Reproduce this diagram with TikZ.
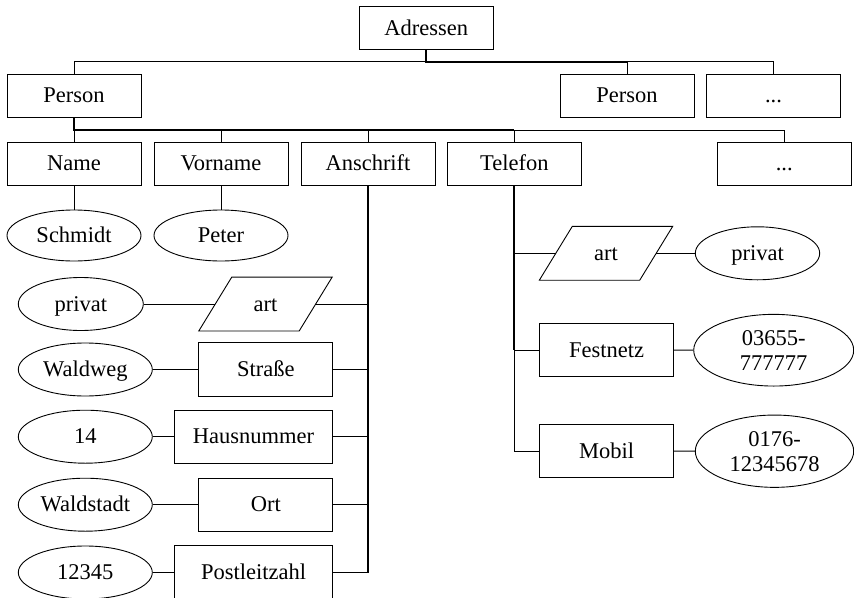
\documentclass[tikz,border=0pt]{standalone}
\usepackage{fontspec}
\setmainfont{Liberation Serif}
\usetikzlibrary{shapes.geometric}

\begin{document}
\begin{tikzpicture}[x=1pt,y=-1pt,
  font=\fontsize{22.5}{25}\selectfont,
  lnthin/.style={line width=0.9pt},
  lnthick/.style={line width=1.9pt},
  box/.style={draw, line width=0.9pt, rectangle, inner sep=0pt,
    text height=16pt, text depth=2pt,
    minimum width=134pt, minimum height=43pt},
  tallbox/.style={box, minimum height=53.4pt},
  widebox/.style={tallbox, minimum width=158.4pt},
  val/.style={draw, line width=0.9pt, ellipse, inner sep=0pt, align=center,
    text height=16pt, text depth=2pt,
    minimum width=134pt, minimum height=53pt},
  twoline/.style={text height={}, text depth={}},
  para/.style={rectangle, inner sep=0pt, text height=16pt, text depth=2pt,
    minimum width=133pt, minimum height=53.5pt}
]
\useasboundingbox (0,0) rectangle (854,597);
\fill[white] (0,0) rectangle (854,597);

% level 1 and 2
\node[box] (adr) at (426.2,28) {Adressen};
\node[box] (p1) at (74,95.7) {Person};
\node[box] (p2) at (627,95.7) {Person};
\node[box] (d1) at (773.5,95.7) {...};

% level 3
\node[box] (name)      at (74,163.8)    {Name};
\node[box] (vorname)   at (221,163.8)   {Vorname};
\node[box] (anschrift) at (368,163.8)   {Anschrift};
\node[box] (telefon)   at (514.3,163.8) {Telefon};
\node[box] (d2)        at (784.3,163.8) {...};

% name values
\node[val, minimum height=51pt] (schmidt) at (74,235.5) {Schmidt};
\node[val, minimum height=51pt] (peter)   at (221,235.5) {Peter};

% address attributes
\node[val, minimum width=125pt] (privat1) at (80.8,304) {privat};
\node[para] (art1) at (265.5,304) {art};
\draw[lnthin] (art1.south west) -- ([xshift=33pt]art1.north west)
  -- (art1.north east) -- ([xshift=-33pt]art1.south east) -- cycle;

\node[val] (waldweg)   at (85.3,369.5) {Waldweg};
\node[tallbox] (strasse) at (265.8,369.5) {Straße};
\node[val] (n14)       at (85.3,436.7) {14};
\node[widebox] (hausnr) at (253.5,436.7) {Hausnummer};
\node[val] (waldstadt) at (85.3,504.7) {Waldstadt};
\node[tallbox] (ort)   at (265.8,504.7) {Ort};
\node[val] (n12345)    at (85.3,572.5) {12345};
\node[widebox] (plz)   at (253.5,572.5) {Postleitzahl};

% phone attributes
\node[para] (art2) at (606,253.3) {art};
\draw[lnthin] (art2.south west) -- ([xshift=33pt]art2.north west)
  -- (art2.north east) -- ([xshift=-33pt]art2.south east) -- cycle;
\node[val, minimum width=124.4pt] (privat2) at (757.5,253.3) {privat};
\node[tallbox] (festnetz) at (606.5,350) {Festnetz};
\node[val, twoline, minimum width=160pt, minimum height=71.7pt] (tel1) at (773.7,350.2) {03655-\\777777};
\node[tallbox] (mobil) at (606.5,451) {Mobil};
\node[val, twoline, minimum width=158.4pt, minimum height=72.3pt] (tel2) at (774.5,451.2) {0176-\\12345678};

% bus from Adressen to the persons
\coordinate (b1) at (426.2,61.7);
\draw[lnthin] (p1.north) -- (p1.north |- b1) -- (d1.north |- b1) -- (d1.north);
\draw[lnthin] (p2.north) -- (p2.north |- b1);
\draw[lnthick] (adr.south) -- (b1) -- (p2.north |- b1);

% bus from Person to its fields
\coordinate (b2) at (74,130);
\draw[lnthin] (name.north) -- (name.north |- b2) -- (d2.north |- b2) -- (d2.north);
\draw[lnthin] (vorname.north) -- (vorname.north |- b2);
\draw[lnthin] (anschrift.north) -- (anschrift.north |- b2);
\draw[lnthin] (telefon.north) -- (telefon.north |- b2);
\draw[lnthick] (p1.south) -- (b2) -- (telefon.north |- b2);

% name and first name values
\draw[lnthin] (name) -- (schmidt);
\draw[lnthin] (vorname) -- (peter);

% address trunk
\draw[lnthick] (anschrift.south) -- (anschrift.south |- plz.east);
\draw[lnthin] ([xshift=-16.5pt]art1.east) -- (art1.east -| anschrift.south);
\draw[lnthin] (strasse.east) -- (strasse.east -| anschrift.south);
\draw[lnthin] (hausnr.east) -- (hausnr.east -| anschrift.south);
\draw[lnthin] (ort.east) -- (ort.east -| anschrift.south);
\draw[lnthin] (plz.east) -- (plz.east -| anschrift.south);

\draw[lnthin] (privat1) -- ([xshift=16.5pt]art1.west);
\draw[lnthin] (waldweg) -- (strasse);
\draw[lnthin] (n14) -- (hausnr);
\draw[lnthin] (waldstadt) -- (ort);
\draw[lnthin] (n12345) -- (plz);

% phone trunk
\draw[lnthick] (telefon.south) -- (telefon.south |- festnetz.west);
\draw[lnthin] (telefon.south |- festnetz.west) -- (telefon.south |- mobil.west) -- (mobil.west);
\draw[lnthin] (telefon.south |- festnetz.west) -- (festnetz.west);
\draw[lnthin] (telefon.south |- art2.west) -- ([xshift=16.5pt]art2.west);
\draw[lnthin] ([xshift=-16.5pt]art2.east) -- (privat2);
\draw[lnthin] (festnetz) -- (tel1);
\draw[lnthin] (mobil) -- (tel2);
\end{tikzpicture}
\end{document}
